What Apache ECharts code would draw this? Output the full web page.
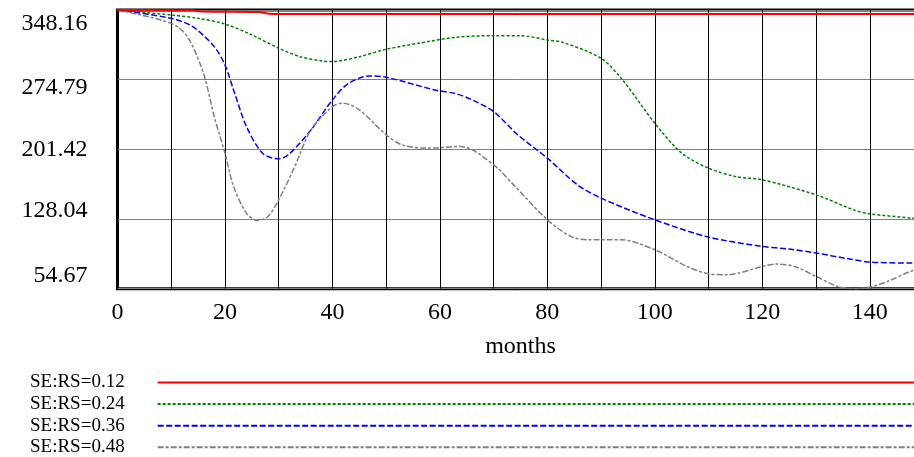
<!DOCTYPE html>
<html lang="en">
<head>
    <meta charset="UTF-8">
    <title>SE:RS</title>
    <script src="https://cdn.jsdelivr.net/npm/echarts@6/dist/echarts.min.js"></script>
    <style type="text/css">
        html, body { margin: 0; padding: 0; background: #fff; }
        #chart { width: 914px; height: 457px; }
    </style>
</head>
<body>
<div id="chart"></div>
<script type="text/javascript">
    var seriesNames = ['SE:RS=0.12', 'SE:RS=0.24', 'SE:RS=0.36', 'SE:RS=0.48'];
    var yTicks = [54.67, 128.04, 201.42, 274.79, 348.16];

    var redMonths = [0, 14, 16, 26, 29, 150];
    var redValues = [348.16, 347.8, 346.5, 346, 344, 344];

    var greenMonths = [0, 10, 15, 20, 25, 30, 34, 38, 40, 45, 50, 56, 63, 70, 75, 80, 83, 90, 94, 100, 105, 110, 115, 120, 130, 137, 140, 148, 150];
    var greenValues = [348.16, 342.9, 339.4, 333.4, 321.9, 307.9, 299, 294.5, 293.8, 299, 306.8, 313.1, 319.4, 321.1, 321.1, 316.6, 313.8, 297.3, 274.5, 228.9, 197.4, 181.6, 172.8, 169.3, 153.5, 137.7, 133.5, 129, 128.5];

    var blueMonths = [0, 10, 14, 18, 20, 21.6, 24, 27, 30, 32, 36, 40, 43, 47, 50, 59, 63, 66, 70, 74.5, 80, 85.6, 90, 100, 110, 120, 125, 130, 136, 140, 148, 150];
    var blueValues = [348.16, 339.4, 330.6, 309.6, 290.3, 264, 225.4, 197.4, 191.4, 196.7, 221.9, 253.5, 271, 278.7, 277.4, 264, 260, 253.5, 241.2, 216.7, 192.1, 164, 150, 127.2, 109, 99.2, 96.4, 92.2, 86.2, 82.7, 81.6, 81.5];

    var grayMonths = [0, 10, 13, 16, 18, 20, 21.6, 24, 26, 28, 30, 33, 36, 40, 42, 45, 50, 53, 57.6, 64, 70, 74, 80, 84.4, 87.5, 93.7, 100, 106, 110, 113.5, 120, 122.5, 126, 130, 134, 137, 140, 143.3, 148, 150];
    var grayValues = [348.16, 334.1, 320.1, 281.5, 235.9, 197.4, 162.3, 134.3, 126.5, 130.7, 148.3, 183.3, 221.9, 246.4, 250, 243, 216.7, 206.1, 202.7, 204.4, 185.1, 162.3, 127.2, 109.6, 106.2, 106.2, 95.7, 78.1, 70.4, 69.4, 78.1, 80.6, 78.1, 67.6, 57.1, 54.7, 56.4, 62.3, 73.9, 76];

    function pairs(xs, ys) {
        return xs.map(function (x, i) { return [x, ys[i]]; });
    }

    // labels sit inside the band, not on the lines (shift in px per tick)
    var labelShift = [-13, -8, 0, 8, 14];
    var rich = {};
    labelShift.forEach(function (s, i) {
        rich['p' + i] = {
            fontFamily: 'Liberation Serif',
            fontSize: 24,
            color: '#000',
            padding: s > 0 ? [s * 2, 0, 0, 0] : [0, 0, -s * 2, 0]
        };
    });

    var serif = 'Liberation Serif';
    var chart = echarts.init(document.getElementById('chart'));
    chart.setOption({
        animation: false,
        grid: {
            left: 117.5, top: 10, width: 806, height: 278.7,
            show: true, borderColor: '#000', borderWidth: 3,
            containLabel: false, outerBoundsMode: 'none'
        },
        xAxis: {
            type: 'value', min: 0, max: 150, interval: 10,
            name: 'months', nameLocation: 'middle', nameGap: 46,
            nameTextStyle: { fontFamily: serif, fontSize: 24, color: '#000' },
            axisLine: { show: false },
            axisTick: { show: false },
            axisLabel: {
                fontFamily: serif, fontSize: 24, color: '#000', margin: 12,
                formatter: function (v) { return v % 20 === 0 ? String(v) : ''; }
            },
            splitLine: { show: true, lineStyle: { color: '#000', width: 1 } }
        },
        yAxis: {
            type: 'value', min: yTicks[0], max: yTicks[yTicks.length - 1],
            interval: (yTicks[yTicks.length - 1] - yTicks[0]) / (yTicks.length - 1),
            axisLine: { show: false },
            axisTick: { show: false },
            axisLabel: {
                margin: 30,
                formatter: function (v) {
                    var best = 0;
                    yTicks.forEach(function (t, i) {
                        if (Math.abs(t - v) < Math.abs(yTicks[best] - v)) best = i;
                    });
                    return '{p' + best + '|' + yTicks[best].toFixed(2) + '}';
                },
                rich: rich
            },
            splitLine: { show: true, lineStyle: { color: '#808080', width: 1 } }
        },
        legend: {
            orient: 'vertical', left: 30, top: 373, height: 100, padding: 0,
            align: 'right', itemWidth: 800, itemHeight: 14, itemGap: 2.6,
            itemStyle: { opacity: 0 },
            textStyle: { fontFamily: serif, fontSize: 19, color: '#000', padding: [0, 28, 0, 0] },
            data: seriesNames
        },
        series: [
            {
                name: seriesNames[0], type: 'line', data: pairs(redMonths, redValues),
                symbol: 'none', smooth: 0.3, z: 5,
                lineStyle: { color: '#ff0000', width: 2, type: 'solid' }
            },
            {
                name: seriesNames[1], type: 'line', data: pairs(greenMonths, greenValues),
                symbol: 'none', smooth: 0.3,
                lineStyle: { color: '#008000', width: 1.5, type: [3, 2] }
            },
            {
                name: seriesNames[2], type: 'line', data: pairs(blueMonths, blueValues),
                symbol: 'none', smooth: 0.3,
                lineStyle: { color: '#0000ff', width: 1.5, type: [6, 2.5] }
            },
            {
                name: seriesNames[3], type: 'line', data: pairs(grayMonths, grayValues),
                symbol: 'none', smooth: 0.3,
                lineStyle: { color: '#808080', width: 1.5, type: [6, 2, 3, 2] }
            }
        ]
    });
</script>
</body>
</html>
